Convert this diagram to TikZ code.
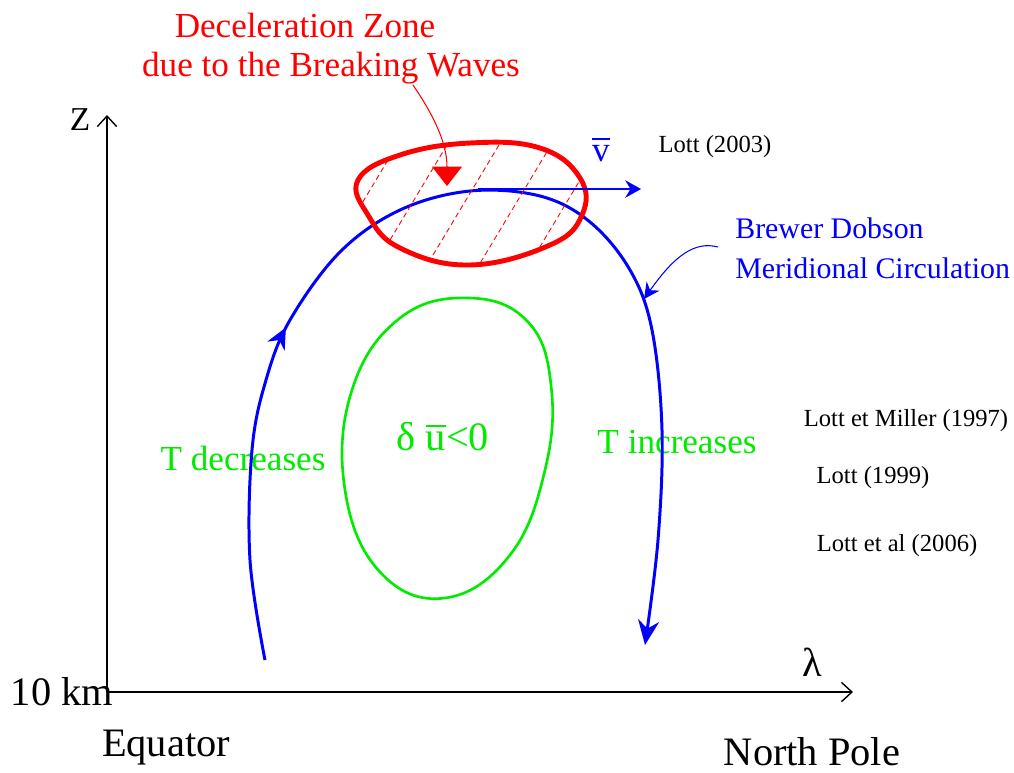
\documentclass[tikz,border=0pt]{standalone}
\usepackage{fontspec}
\setmainfont{Liberation Serif}
\usetikzlibrary{arrows.meta,decorations.markings,positioning}
\definecolor{bdblue}{RGB}{0,0,255}
\definecolor{zonered}{RGB}{255,0,0}
\definecolor{tgreen}{RGB}{0,235,0}
\newcommand{\meanof}[1]{\leavevmode\vbox{\hrule height 0.055em \kern 0.14em \hbox{#1}}}

\begin{document}
\begin{tikzpicture}[x=0.02cm, y=-0.02cm,
	% Text styles
	zonelabel/.style={
		text=zonered,
		font=\fontsize{20}{24}\selectfont,
		inner sep=0pt
	},
	bdlabel/.style={
		text=bdblue,
		font=\fontsize{17}{20}\selectfont,
		inner sep=0pt,
		anchor=west
	},
	templabel/.style={
		text=tgreen,
		font=\fontsize{20}{24}\selectfont,
		inner sep=0pt
	},
	reflabel/.style={
		font=\fontsize{14}{17}\selectfont,
		inner sep=0pt
	},
	axislabel/.style={
		font=\fontsize{23}{28}\selectfont,
		inner sep=0pt
	},
	% Line styles
	axis/.style={
		-{Straight Barb[length=6pt,width=11pt]},
		line width=0.8pt
	},
	circulation/.style={
		draw=bdblue,
		line width=1.7pt,
		line join=round
	},
	pointer/.style={
		draw=#1,
		line width=0.6pt
	},
	hatch/.style={
		draw=zonered,
		line width=0.5pt,
		dash pattern=on 3pt off 2pt
	}
	]
	
	\useasboundingbox (0,0) rectangle (1014,772);
	
	% Axes
	\coordinate (origin) at (107,692);
	\coordinate (ztop) at (107,115);
	\coordinate (lamend) at (853,692);
	\draw[axis] (origin) -- (ztop);
	\draw[axis] (origin) -- (lamend);
	
	\node[axislabel, font=\fontsize{19}{23}\selectfont] (zlabel) at (80,120) {Z};
	\node[axislabel] (lambda) at (812,662) {λ};
	\node[axislabel] (tenkm) at (62,692) {10 km};
	\node[axislabel] (equator) at (166,748) {Equator};
	\node[axislabel] (npole) at (812,752) {North Pole};
	
	% Temperature labels
	\node[templabel] (tdec) at (243,458) {T decreases};
	\node[templabel] (tinc) at (677,442) {T increases};
	
	% Brewer Dobson circulation
	\draw[circulation, -{Stealth[length=14pt,width=12pt]},
		postaction={decorate},
		decoration={markings, mark=at position 0.295 with {\arrow{Stealth[length=12pt,width=11pt]}}}]
		plot[smooth, tension=0.6] coordinates {(265,660) (250,560) (252,450) (266,380) (290,320) (340,252) (400,210) (470,191) (540,196) (590,222) (630,270) (652,330) (662,430) (658,540) (645,645)};
	
	% Deceleration zone
	\begin{scope}
		\clip plot[smooth cycle, tension=0.7] coordinates {(358,180) (400,155) (470,143) (540,148) (580,178) (582,215) (550,245) (470,265) (400,248) (368,215)};
		\foreach \hx in {322,372,424,476,526}
			\draw[hatch] (\hx,270) -- ++(84,-140);
	\end{scope}
	\draw[zonered, line width=2.8pt] plot[smooth cycle, tension=0.7] coordinates {(358,180) (400,155) (470,143) (540,148) (580,178) (582,215) (550,245) (470,265) (400,248) (368,215)};
	
	\node[zonelabel] (zonetitle) at (305,25) {Deceleration Zone};
	\node[zonelabel] (zonecause) at (331,68) {due to the Breaking Waves};
	\coordinate (redstart) at (413,85);
	\coordinate (redtip) at (447,186);
	\draw[pointer=zonered, -{Triangle[length=11pt,width=17pt]}] (redstart) .. controls (430,110) and (447,140) .. (redtip);
	
	% Mean flow
	\coordinate (vstart) at (478,189);
	\coordinate (vend) at (641,189);
	\draw[bdblue, line width=0.8pt, -{Stealth[length=9pt,width=10pt,inset=3pt]}] (vstart) -- (vend);
	\node[text=bdblue, font=\fontsize{20}{24}\selectfont, inner sep=0pt] (vbar) at (601,150) {\meanof{v}};
	
	% Circulation label
	\node[bdlabel] (bdname) at (735,228) {Brewer Dobson};
	\node[bdlabel] (bdmerid) at (735,268) {Meridional Circulation};
	\coordinate (bdstart) at (718,247);
	\coordinate (bdtip) at (644,299);
	\draw[pointer=bdblue, -{Stealth[length=9pt,width=9pt]}] (bdstart) .. controls (695,241) and (675,255) .. (bdtip);
	
	% Zonal wind anomaly
	\draw[tgreen, line width=1.5pt] plot[smooth cycle, tension=0.7] coordinates {(470,298) (528,322) (551,385) (545,470) (510,555) (445,598) (380,572) (345,490) (352,390) (400,318)};
	\node[templabel, font=\fontsize{23}{28}\selectfont] (duneg) at (443,437) {δ \meanof{u}<0};
	
	% References
	\node[reflabel] (lott03) at (715,147) {Lott (2003)};
	\node[reflabel] (lottmiller) at (906,421) {Lott et Miller (1997)};
	\node[reflabel] (lott99) at (873,478) {Lott (1999)};
	\node[reflabel] (lott06) at (897,546) {Lott et al (2006)};
	
\end{tikzpicture}
\end{document}
